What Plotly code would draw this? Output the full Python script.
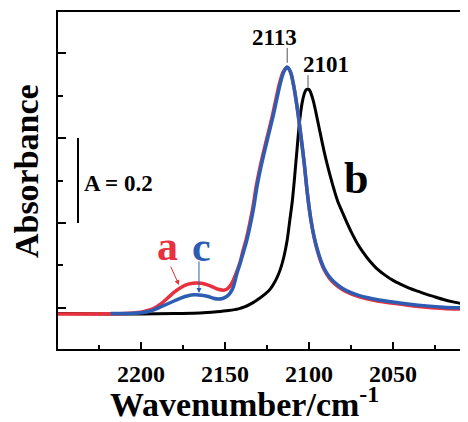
import plotly.graph_objects as go

# ---- data ----
# curve a (red)
wn_a = [2250, 2230, 2210, 2200, 2196, 2192, 2188, 2184, 2180, 2176, 2172, 2168, 2164, 2160,
        2157, 2154, 2151, 2149, 2147, 2145, 2143, 2141, 2139.5, 2137.5, 2135.5, 2133.5, 2131.5,
        2129.5, 2127.5, 2125.5, 2123.5, 2121.5, 2119.5, 2117.5, 2115.3, 2113.2, 2111, 2109,
        2107, 2105, 2103, 2101, 2099, 2097, 2095, 2093, 2091, 2088, 2085, 2080, 2075, 2070,
        2060, 2050, 2040, 2030, 2020, 2005]
abs_a = [-0.014, -0.014, -0.013, -0.010, -0.006, 0.000, 0.010, 0.024, 0.038, 0.049, 0.056, 0.059,
         0.058, 0.054, 0.049, 0.044, 0.042, 0.044, 0.052, 0.066, 0.086, 0.108, 0.132, 0.160,
         0.195, 0.235, 0.285, 0.325, 0.360, 0.393, 0.425, 0.458, 0.495, 0.530, 0.556, 0.566,
         0.555, 0.520, 0.470, 0.410, 0.345, 0.270, 0.210, 0.166, 0.134, 0.109, 0.090, 0.071,
         0.058, 0.043, 0.033, 0.026, 0.017, 0.011, 0.006, 0.002, -0.001, -0.003]

# curve c (blue)
wn_c = [2218, 2208, 2200, 2196, 2192, 2188, 2184, 2180, 2176, 2172, 2168, 2164, 2160, 2157,
        2154, 2151, 2149, 2147, 2145, 2143, 2141, 2139, 2137, 2135, 2133, 2131, 2129, 2127,
        2125, 2123, 2121, 2119, 2117, 2115, 2113, 2111, 2109, 2107, 2105, 2103, 2101, 2099,
        2097, 2095, 2093, 2091, 2088, 2085, 2080, 2075, 2070, 2060, 2050, 2040, 2030, 2020, 2005]
abs_c = [-0.013, -0.013, -0.011, -0.009, -0.004, 0.003, 0.010, 0.017, 0.024, 0.029, 0.031, 0.030,
         0.027, 0.023, 0.021, 0.023, 0.027, 0.035, 0.050, 0.080, 0.105, 0.132, 0.160, 0.195,
         0.235, 0.285, 0.325, 0.360, 0.393, 0.425, 0.458, 0.495, 0.530, 0.556, 0.567, 0.555,
         0.520, 0.470, 0.410, 0.345, 0.270, 0.210, 0.168, 0.137, 0.112, 0.093, 0.074, 0.061,
         0.046, 0.036, 0.029, 0.020, 0.014, 0.009, 0.005, 0.002, 0.000]

# curve b (black)
wn_b = [2250, 2220, 2200, 2180, 2165, 2155, 2148, 2142, 2138, 2135, 2132, 2129, 2126, 2123,
        2121, 2119, 2117, 2115, 2113, 2111.5, 2110, 2109, 2108, 2107, 2106, 2105, 2104, 2103,
        2102, 2101, 2100, 2099, 2098, 2097, 2096, 2095, 2093, 2091, 2089, 2087, 2085, 2083,
        2080, 2077, 2074, 2071, 2068, 2064, 2060, 2055, 2050, 2045, 2040, 2035, 2030, 2025,
        2020, 2015, 2010, 2005]
abs_b = [-0.013, -0.014, -0.014, -0.013, -0.012, -0.009, -0.006, -0.002, 0.003, 0.009, 0.016,
         0.024, 0.033, 0.045, 0.057, 0.072, 0.092, 0.120, 0.160, 0.205, 0.250, 0.290, 0.335,
         0.380, 0.425, 0.460, 0.485, 0.502, 0.512, 0.515, 0.514, 0.507, 0.495, 0.480, 0.462,
         0.443, 0.405, 0.368, 0.335, 0.305, 0.277, 0.252, 0.224, 0.197, 0.172, 0.150, 0.132,
         0.111, 0.094, 0.078, 0.065, 0.055, 0.046, 0.039, 0.032, 0.026, 0.020, 0.015, 0.011, 0.007]

peak_labels = ["2113", "2101"]
peak_wn = [2113, 2100.6]
peak_abs = [0.567, 0.515]

x_ticks = [2200, 2150, 2100, 2050]
x_ticktext = ["2200", "2150", "2100", "2050"]

RED = "#E8303F"
BLUE = "#2C5DB3"
FONT = "Liberation Serif, Times New Roman, serif"

fig = go.Figure()
fig.add_trace(go.Scatter(x=wn_b, y=abs_b, mode="lines", line=dict(color="black", width=3, shape="spline", smoothing=0.8)))
fig.add_trace(go.Scatter(x=wn_a, y=abs_a, mode="lines", line=dict(color=RED, width=3.5, shape="spline", smoothing=0.8)))
fig.add_trace(go.Scatter(x=wn_c, y=abs_c, mode="lines", line=dict(color=BLUE, width=3.5, shape="spline", smoothing=0.8)))

# peak marker lines and labels
fig.add_shape(type="line", x0=peak_wn[0], x1=peak_wn[0], y0=peak_abs[0] + 0.01, y1=peak_abs[0] + 0.045,
              line=dict(color="#555555", width=1))
fig.add_shape(type="line", x0=peak_wn[1], x1=peak_wn[1], y0=peak_abs[1] + 0.005, y1=peak_abs[1] + 0.033,
              line=dict(color="#555555", width=1))
fig.add_annotation(x=2120.8, y=0.636, text=peak_labels[0], showarrow=False,
                   font=dict(family=FONT, size=23, color="black", weight="bold"))
fig.add_annotation(x=2090, y=0.572, text=peak_labels[1], showarrow=False,
                   font=dict(family=FONT, size=23, color="black", weight="bold"))

# curve labels
fig.add_annotation(x=2184.5, y=0.145, text="a", showarrow=False,
                   font=dict(family=FONT, size=42, color=RED, weight="bold"))
fig.add_annotation(x=2164.3, y=0.143, text="c", showarrow=False,
                   font=dict(family=FONT, size=42, color=BLUE, weight="bold"))
fig.add_annotation(x=2072, y=0.304, text="b", showarrow=False,
                   font=dict(family=FONT, size=44, color="black", weight="bold"))

# arrows
fig.add_annotation(x=2177.4, y=0.054, ax=2182.7, ay=0.101, axref="x", ayref="y", text="",
                   showarrow=True, arrowhead=2, arrowsize=1, arrowwidth=1, arrowcolor=RED)
fig.add_annotation(x=2165.5, y=0.035, ax=2165.5, ay=0.113, axref="x", ayref="y", text="",
                   showarrow=True, arrowhead=2, arrowsize=1, arrowwidth=1, arrowcolor=BLUE)

# scale bar
fig.add_shape(type="line", x0=2237.5, x1=2237.5, y0=0.2, y1=0.4, line=dict(color="black", width=2))
fig.add_annotation(x=2235, y=0.292, text="A = 0.2", showarrow=False, xanchor="left",
                   font=dict(family=FONT, size=23, color="black", weight="bold"))

# axis titles
fig.add_annotation(xref="paper", yref="paper", x=-0.078, y=0.528, xanchor="center", yanchor="middle",
                   text="Absorbance", textangle=-90,
                   showarrow=False, font=dict(family=FONT, size=34, color="black", weight="bold"))
fig.add_annotation(xref="paper", yref="paper", x=0.456, y=-0.157, xanchor="center", yanchor="middle",
                   text="Wavenumber/cm<sup>-1</sup>",
                   showarrow=False, font=dict(family=FONT, size=34, color="black", weight="bold"))

fig.update_layout(
    width=460, height=414,
    margin=dict(l=50, r=0, t=4, b=73),
    paper_bgcolor="white", plot_bgcolor="white",
    showlegend=False,
    xaxis=dict(range=[2249.4, 2005.4], tickvals=x_ticks, ticktext=x_ticktext,
               ticks="inside", ticklen=7, tickwidth=1.5, tickcolor="black",
               minor=dict(dtick=25, tick0=2000, ticks="inside", ticklen=4, tickwidth=1.5, tickcolor="black"),
               showline=True, linecolor="black", linewidth=1.5, mirror=True,
               showgrid=False, zeroline=False, ticklabelstandoff=2,
               tickfont=dict(family=FONT, size=24, color="black", weight="bold")),
    yaxis=dict(range=[-0.0965, 0.6965], tickvals=[0, 0.2, 0.4, 0.6], showticklabels=False,
               ticks="inside", ticklen=8, tickwidth=1.5, tickcolor="black",
               minor=dict(tickvals=[0.1, 0.3, 0.5], ticks="inside", ticklen=5, tickwidth=1.5, tickcolor="black"),
               showline=True, linecolor="black", linewidth=1.5, mirror=False,
               showgrid=False, zeroline=False),
)

fig.write_html("out.html")
